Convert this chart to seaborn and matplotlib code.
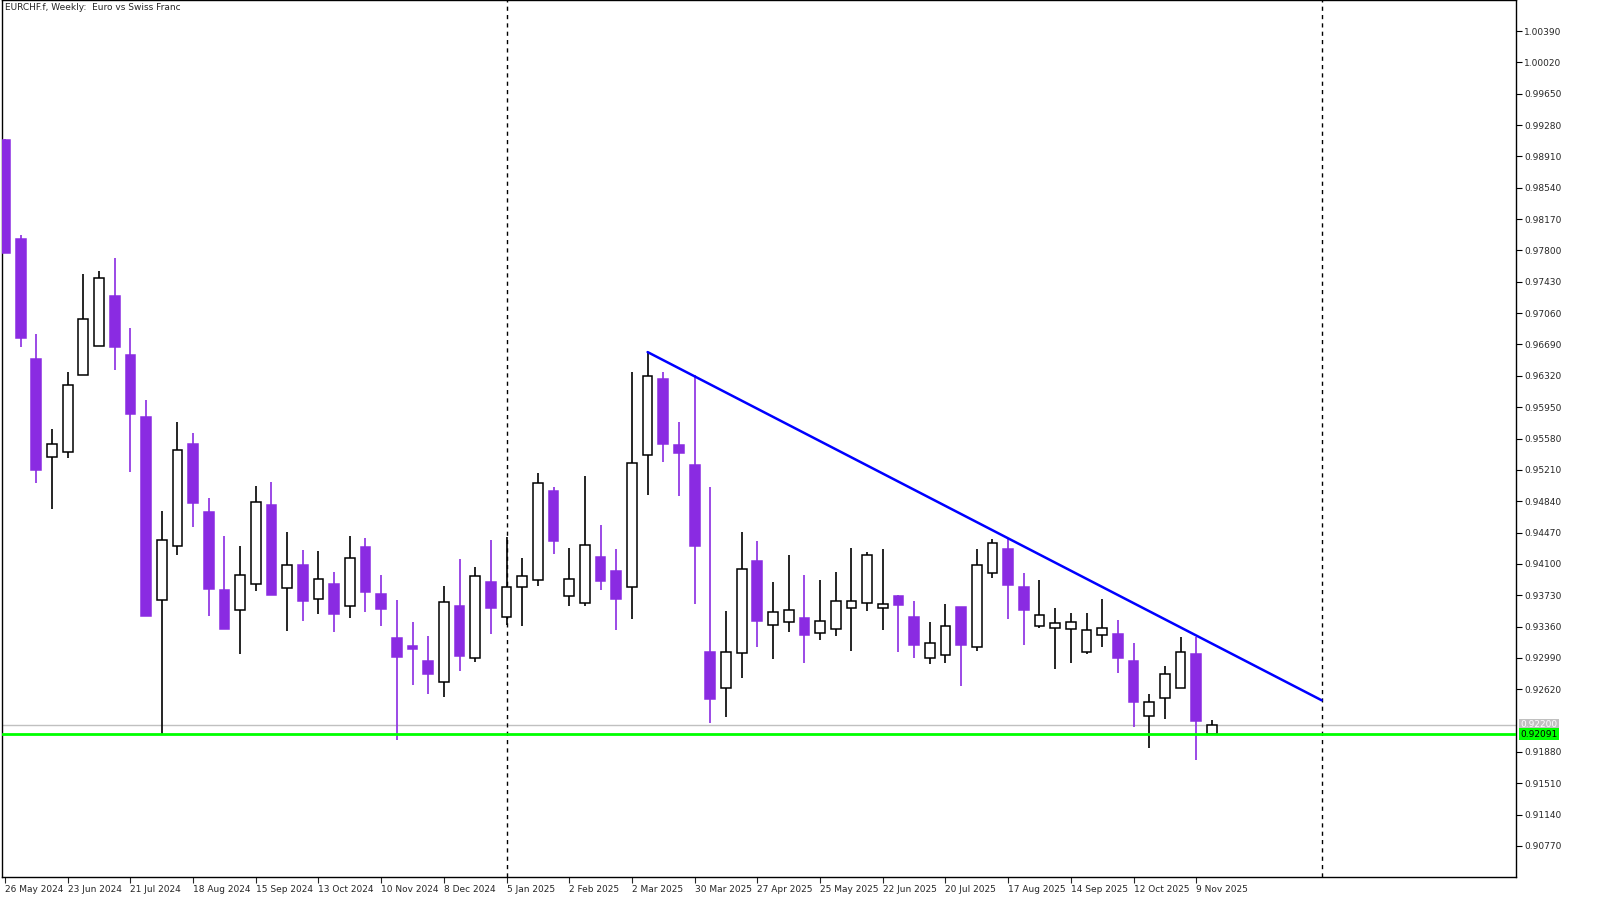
import numpy as np
import pandas as pd
import seaborn as sns
import matplotlib.pyplot as plt

# weekly EURCHF candles, 26 May 2024 .. 16 Nov 2025
opens = [0.9910, 0.9794, 0.9652, 0.9536, 0.9542, 0.9633, 0.9667, 0.9726, 0.9657, 0.9583,
         0.9367, 0.9431, 0.9551, 0.9471, 0.9379, 0.9356, 0.9386, 0.9480, 0.9382, 0.9409,
         0.9369, 0.9386, 0.9360, 0.9430, 0.9374, 0.9323, 0.9313, 0.9295, 0.9271, 0.9360,
         0.9299, 0.9389, 0.9347, 0.9383, 0.9391, 0.9496, 0.9372, 0.9364, 0.9418, 0.9402,
         0.9383, 0.9539, 0.9628, 0.9550, 0.9527, 0.9306, 0.9264, 0.9305, 0.9413, 0.9338,
         0.9341, 0.9346, 0.9328, 0.9333, 0.9358, 0.9364, 0.9358, 0.9372, 0.9347, 0.9299,
         0.9302, 0.9359, 0.9312, 0.9399, 0.9428, 0.9383, 0.9337, 0.9334, 0.9333, 0.9306,
         0.9326, 0.9327, 0.9295, 0.9230, 0.9252, 0.9264, 0.9304, 0.9209]
highs = [0.9912, 0.9798, 0.9681, 0.9569, 0.9637, 0.9752, 0.9756, 0.9771, 0.9688, 0.9603,
         0.9472, 0.9577, 0.9564, 0.9488, 0.9443, 0.9431, 0.9502, 0.9507, 0.9448, 0.9426,
         0.9425, 0.9400, 0.9443, 0.9441, 0.9397, 0.9367, 0.9341, 0.9325, 0.9384, 0.9416,
         0.9406, 0.9438, 0.9442, 0.9417, 0.9517, 0.9501, 0.9429, 0.9514, 0.9456, 0.9428,
         0.9637, 0.9660, 0.9637, 0.9577, 0.9633, 0.9501, 0.9354, 0.9448, 0.9437, 0.9389,
         0.9420, 0.9397, 0.9391, 0.9400, 0.9429, 0.9424, 0.9428, 0.9373, 0.9366, 0.9341,
         0.9363, 0.9359, 0.9428, 0.9439, 0.9441, 0.9399, 0.9391, 0.9358, 0.9352, 0.9352,
         0.9369, 0.9344, 0.9317, 0.9256, 0.9289, 0.9324, 0.9324, 0.9226]
lows = [0.9777, 0.9666, 0.9505, 0.9475, 0.9535, 0.9633, 0.9667, 0.9639, 0.9518, 0.9348,
        0.9209, 0.9420, 0.9454, 0.9348, 0.9333, 0.9304, 0.9378, 0.9373, 0.9331, 0.9343,
        0.9351, 0.9330, 0.9346, 0.9353, 0.9337, 0.9202, 0.9267, 0.9256, 0.9253, 0.9284,
        0.9294, 0.9327, 0.9338, 0.9337, 0.9384, 0.9422, 0.9360, 0.9360, 0.9379, 0.9332,
        0.9345, 0.9491, 0.9530, 0.9490, 0.9363, 0.9222, 0.9229, 0.9275, 0.9312, 0.9298,
        0.9330, 0.9293, 0.9320, 0.9325, 0.9307, 0.9354, 0.9332, 0.9306, 0.9299, 0.9292,
        0.9293, 0.9266, 0.9307, 0.9393, 0.9345, 0.9314, 0.9334, 0.9286, 0.9293, 0.9304,
        0.9312, 0.9281, 0.9217, 0.9193, 0.9227, 0.9264, 0.9179, 0.9209]
closes = [0.9777, 0.9677, 0.9521, 0.9551, 0.9621, 0.9699, 0.9747, 0.9666, 0.9587, 0.9348,
          0.9438, 0.9544, 0.9482, 0.9380, 0.9333, 0.9397, 0.9483, 0.9373, 0.9409, 0.9366,
          0.9392, 0.9351, 0.9417, 0.9377, 0.9357, 0.9300, 0.9310, 0.9280, 0.9365, 0.9301,
          0.9396, 0.9358, 0.9383, 0.9396, 0.9505, 0.9437, 0.9392, 0.9432, 0.9390, 0.9369,
          0.9529, 0.9632, 0.9551, 0.9541, 0.9431, 0.9251, 0.9306, 0.9404, 0.9343, 0.9353,
          0.9356, 0.9326, 0.9343, 0.9366, 0.9366, 0.9420, 0.9363, 0.9361, 0.9314, 0.9317,
          0.9337, 0.9314, 0.9409, 0.9435, 0.9385, 0.9356, 0.9350, 0.9340, 0.9341, 0.9332,
          0.9334, 0.9299, 0.9247, 0.9247, 0.9280, 0.9306, 0.9225, 0.9220]

x_labels = ["26 May 2024", "23 Jun 2024", "21 Jul 2024", "18 Aug 2024", "15 Sep 2024",
            "13 Oct 2024", "10 Nov 2024", "8 Dec 2024", "5 Jan 2025", "2 Feb 2025",
            "2 Mar 2025", "30 Mar 2025", "27 Apr 2025", "25 May 2025", "22 Jun 2025",
            "20 Jul 2025", "17 Aug 2025", "14 Sep 2025", "12 Oct 2025", "9 Nov 2025"]
y_ticks = [1.00390, 1.00020, 0.99650, 0.99280, 0.98910, 0.98540, 0.98170, 0.97800,
           0.97430, 0.97060, 0.96690, 0.96320, 0.95950, 0.95580, 0.95210, 0.94840,
           0.94470, 0.94100, 0.93730, 0.93360, 0.92990, 0.92620, 0.91880, 0.91510,
           0.91140, 0.90770]
trend_idx = [41, 84]
trend_price = [0.9660, 0.9249]
support = 0.92091
last_price = 0.92200
period_sep = [32, 84]

df = pd.DataFrame({"open": opens, "high": highs, "low": lows, "close": closes})
df["idx"] = np.arange(len(df))
df["up"] = df["close"] >= df["open"]

sns.set_style("white")
plt.rcParams['font.family'] = ['DejaVu Sans']

PURPLE = "#8A2BE2"
fig = plt.figure(figsize=(15.97, 9.15), dpi=100)
ax = fig.add_axes([2 / 1597, 38 / 915, 1514 / 1597, 877 / 915])

# wicks
for up, col in [(True, "black"), (False, PURPLE)]:
    d = df[df["up"] == up]
    ax.vlines(d["idx"], d["low"], d["high"], color=col, lw=1.2, zorder=2)
# bodies
for up, face, edge in [(True, "white", "black"), (False, PURPLE, PURPLE)]:
    d = df[df["up"] == up]
    lo = np.minimum(d["open"], d["close"])
    h = np.maximum(np.abs(d["close"] - d["open"]), 0.00005)
    ax.bar(d["idx"], h, bottom=lo, width=0.62, color=face, edgecolor=edge, lw=1.1, zorder=3)

ax.plot(trend_idx, trend_price, color="#0000FF", lw=1.8, zorder=4)
ax.axhline(last_price, color="#C0C0C0", lw=1, zorder=1)
ax.axhline(support, color="#00FF00", lw=2, zorder=4)
for s in period_sep:
    ax.axvline(s, color="black", lw=1, ls=(0, (3, 3)), zorder=1)

ax.set_xlim(-0.19, 96.4)
ax.set_ylim(0.90404, 1.00756)

ax.yaxis.tick_right()
ax.set_yticks(y_ticks)
ax.set_yticklabels([f"{v:.5f}" for v in y_ticks], fontsize=6.5)
ax.tick_params(axis="y", length=4, width=0.8, pad=2, color="black", direction="out", right=True)
ax.set_xticks(np.arange(0, len(df), 4))
ax.set_xticklabels(x_labels, fontsize=6.5, ha="left")
ax.tick_params(axis="x", length=4, width=0.8, pad=2, bottom=True)
for lbl in ax.get_xticklabels():
    lbl.set_x(lbl.get_position()[0])
for sp in ax.spines.values():
    sp.set_color("black")
    sp.set_linewidth(1)

# price boxes on the right scale
for val, bg in [(last_price, "#C0C0C0"), (support, "#00FF00")]:
    ax.text(1.003, val, f"{val:.5f}", transform=ax.get_yaxis_transform(), fontsize=6.5,
            color="white" if bg == "#C0C0C0" else "black", va="center", ha="left",
            bbox=dict(boxstyle="square,pad=0.15", fc=bg, ec="none"), clip_on=False)

ax.text(0.002, 0.997, "EURCHF.f, Weekly:  Euro vs Swiss Franc", transform=ax.transAxes,
        fontsize=6.5, va="top", ha="left")

fig.savefig("out.png", dpi=100, facecolor="white")
